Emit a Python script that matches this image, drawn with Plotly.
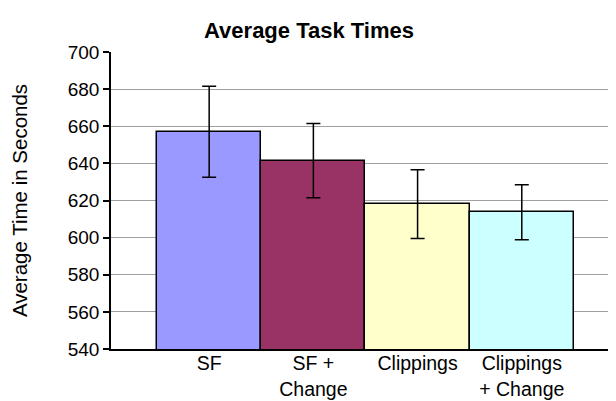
import plotly.graph_objects as go

categories = ["SF", "SF +<br>Change", "Clippings", "Clippings<br>+ Change"]
mean_times = [657.0, 641.5, 618.0, 613.7]
error_sizes = [24.5, 20.0, 18.5, 14.8]
bar_colors = ["#9999FF", "#993366", "#FFFFCC", "#CCFFFF"]
y_ticks = [540, 560, 580, 600, 620, 640, 660, 680, 700]

positions = list(range(len(categories)))
FONT = "Liberation Sans, Arial, sans-serif"

# the page body has an 8px margin, so the figure is sized/offset to compensate
fig = go.Figure()
fig.add_trace(go.Bar(
    x=positions,
    y=mean_times,
    width=1,
    marker=dict(color=bar_colors, line=dict(color="black", width=1.5)),
    error_y=dict(type="data", array=error_sizes, visible=True,
                 color="black", thickness=1.5, width=7),
    showlegend=False,
))

fig.update_layout(
    width=608, height=393,
    margin=dict(l=103, r=0, t=44, b=52),
    paper_bgcolor="white", plot_bgcolor="white",
    font=dict(family=FONT, color="black", size=19),
    title=dict(text="<b>Average Task Times</b>", x=(309 - 8) / 608, xanchor="center",
               y=1 - 22 / 393, yanchor="middle", yref="container",
               font=dict(size=22, family=FONT, color="black")),
    bargap=0,
)
fig.update_xaxes(
    range=[-0.942, 3.904], automargin=False,
    tickmode="array", tickvals=positions, ticktext=categories,
    showline=True, linecolor="black", linewidth=1.5,
    showgrid=False, ticks="", zeroline=False,
    tickfont=dict(size=19.5, family=FONT), ticklabelstandoff=-4,
)
fig.update_yaxes(
    range=[540, 700], tickmode="array", tickvals=y_ticks, automargin=False,
    showline=True, linecolor="black", linewidth=1.5,
    ticks="outside", ticklen=6, tickcolor="black", tickwidth=1.5,
    showgrid=True, gridcolor="#A0A0A0", gridwidth=1, zeroline=False,
    tickfont=dict(size=19, family=FONT),
    title=dict(text="Average Time in Seconds", font=dict(size=20.5, family=FONT), standoff=36),
)

fig.write_html("out.html")
